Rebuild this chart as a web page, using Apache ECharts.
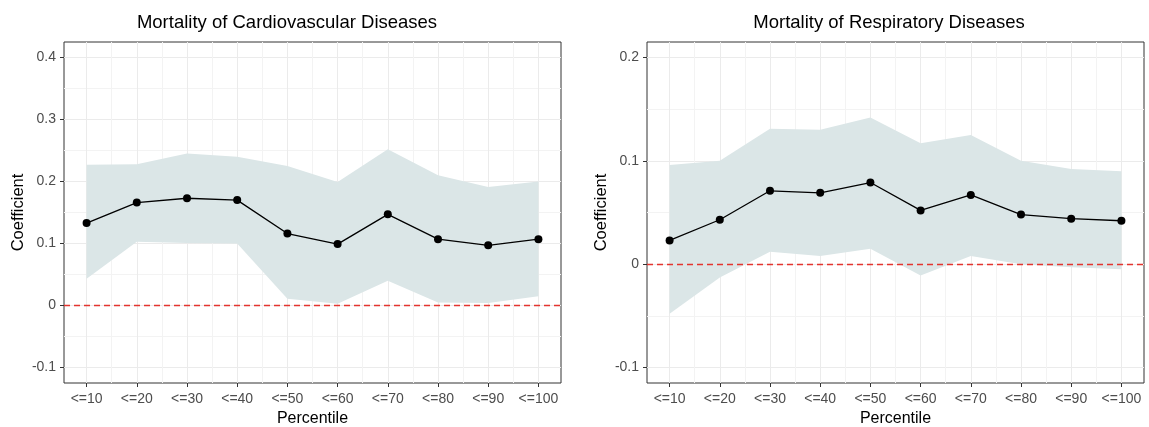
<!DOCTYPE html>
<html>
<head>
<meta charset="utf-8">
<script src="https://cdn.jsdelivr.net/npm/echarts@6/dist/echarts.min.js"></script>
<style>
html,body{margin:0;padding:0;background:#fff;}
#c{width:1149px;height:427px;}
</style>
</head>
<body>
<div id="c"></div>
<script>
// ---- data ----
const categories = ['<=10','<=20','<=30','<=40','<=50','<=60','<=70','<=80','<=90','<=100'];
const cvdCoef  = [0.133, 0.166, 0.173, 0.170, 0.116, 0.099, 0.147, 0.107, 0.097, 0.107];
const cvdLower = [0.043, 0.103, 0.101, 0.100, 0.011, 0.003, 0.040, 0.005, 0.004, 0.015];
const cvdUpper = [0.227, 0.228, 0.245, 0.240, 0.225, 0.199, 0.252, 0.210, 0.191, 0.200];
const respCoef  = [0.023, 0.043, 0.071, 0.069, 0.079, 0.052, 0.067, 0.048, 0.044, 0.042];
const respLower = [-0.048, -0.013, 0.012, 0.008, 0.015, -0.011, 0.008, 0.000, -0.003, -0.005];
const respUpper = [0.096, 0.100, 0.131, 0.130, 0.142, 0.117, 0.125, 0.100, 0.092, 0.090];
const cvdTicks  = [-0.1, 0, 0.1, 0.2, 0.3, 0.4];
const cvdMinor  = [-0.05, 0.05, 0.15, 0.25, 0.35];
const respTicks = [-0.1, 0, 0.1, 0.2];
const respMinor = [-0.05, 0.05, 0.15];
const titles = ['Mortality of Cardiovascular Diseases', 'Mortality of Respiratory Diseases'];

// ---- build ----
const xPos = categories.map((c, i) => i + 1);
const xMinor = categories.slice(1).map((c, i) => i + 1.5);
const pair = (ys) => ys.map((y, i) => [xPos[i], y]);
const fmtY = v => (Math.abs(v) < 1e-9 ? '0' : (+v).toFixed(1));
const fmtX = v => { const i = Math.round(v) - 1; return (Math.abs(v - Math.round(v)) < 1e-6 && categories[i]) ? categories[i] : ''; };

const FONT = 'Liberation Sans, Arial, sans-serif';
const grids = [
  {left: 64, right: 588, top: 42, bottom: 44},
  {left: 647, right: 5, top: 42, bottom: 44}
];
const panels = [
  {coef: cvdCoef, lo: cvdLower, hi: cvdUpper, ticks: cvdTicks, minor: cvdMinor, min: -0.125, max: 0.425},
  {coef: respCoef, lo: respLower, hi: respUpper, ticks: respTicks, minor: respMinor, min: -0.115, max: 0.215}
];

const xAxis = [], yAxis = [], series = [], grid = [];
panels.forEach((p, k) => {
  grid.push(Object.assign({show: true, borderColor: '#333333', borderWidth: 1, backgroundColor: '#fff',
    containLabel: false, outerBoundsMode: 'none'}, grids[k]));
  xAxis.push({
    type: 'value', gridIndex: k, min: 0.55, max: 10.45,
    name: 'Percentile', nameLocation: 'middle', nameGap: 28,
    nameTextStyle: {fontFamily: FONT, fontSize: 16, color: '#000'},
    axisLine: {show: false, onZero: false},
    axisTick: {show: true, length: 4, lineStyle: {color: '#333333'}, customValues: xPos},
    axisLabel: {fontFamily: FONT, fontSize: 14, color: '#4d4d4d', margin: 9, customValues: xPos, formatter: fmtX},
    splitLine: {show: true, lineStyle: {color: '#ebebeb', width: 1}}
  });
  xAxis.push({
    type: 'value', gridIndex: k, min: 0.55, max: 10.45, position: 'top',
    axisLine: {show: false, onZero: false}, axisLabel: {show: false, customValues: xMinor},
    axisTick: {show: false, customValues: xMinor},
    splitLine: {show: true, lineStyle: {color: '#f3f3f3', width: 1}}
  });
  yAxis.push({
    type: 'value', gridIndex: k, min: p.min, max: p.max,
    name: 'Coefficient', nameLocation: 'middle', nameGap: 37,
    nameTextStyle: {fontFamily: FONT, fontSize: 16.5, color: '#000'},
    axisLine: {show: false, onZero: false},
    axisTick: {show: true, length: 4, lineStyle: {color: '#333333'}, customValues: p.ticks},
    axisLabel: {fontFamily: FONT, fontSize: 14, color: '#4d4d4d', margin: 8, customValues: p.ticks, formatter: fmtY},
    splitLine: {show: true, lineStyle: {color: '#ebebeb', width: 1}}
  });
  yAxis.push({
    type: 'value', gridIndex: k, min: p.min, max: p.max, position: 'right',
    axisLine: {show: false, onZero: false}, axisLabel: {show: false, customValues: p.minor},
    axisTick: {show: false, customValues: p.minor},
    splitLine: {show: true, lineStyle: {color: '#f3f3f3', width: 1}}
  });
  const xi = 2 * k, yi = 2 * k;
  const lo = p.lo, hi = p.hi;
  series.push({
    type: 'custom', xAxisIndex: xi, yAxisIndex: yi, silent: true, z: 1,
    data: xPos.map((x, i) => [x, lo[i], hi[i]]),
    encode: {x: 0, y: [1, 2]},
    renderItem: (params, api) => {
      if (params.dataIndex !== 0) return null;
      const pts = [];
      for (let i = 0; i < xPos.length; i++) pts.push(api.coord([xPos[i], hi[i]]));
      for (let i = xPos.length - 1; i >= 0; i--) pts.push(api.coord([xPos[i], lo[i]]));
      return {type: 'polygon', shape: {points: pts}, style: {fill: '#dbe6e7'}};
    }
  });
  series.push({
    type: 'line', xAxisIndex: xi, yAxisIndex: yi, data: pair(p.coef),
    symbol: 'circle', symbolSize: 8, itemStyle: {color: '#000'},
    lineStyle: {color: '#000', width: 1.3}, z: 5, silent: true,
    markLine: {
      silent: true, symbol: 'none', label: {show: false}, z: 3,
      lineStyle: {color: '#e3342f', type: [6, 4], width: 1.3},
      data: [{yAxis: 0}]
    }
  });
});

const option = {
  animation: false,
  backgroundColor: '#fff',
  title: [
    {text: titles[0], left: 282, top: 8, textAlign: 'center', textStyle: {fontFamily: FONT, fontSize: 18.5, fontWeight: 'normal', color: '#000'}},
    {text: titles[1], left: 884, top: 8, textAlign: 'center', textStyle: {fontFamily: FONT, fontSize: 18.5, fontWeight: 'normal', color: '#000'}}
  ],
  grid, xAxis, yAxis, series
};
const chart = echarts.init(document.getElementById('c'), null, {renderer: 'canvas'});
chart.setOption(option);
</script>
</body>
</html>
